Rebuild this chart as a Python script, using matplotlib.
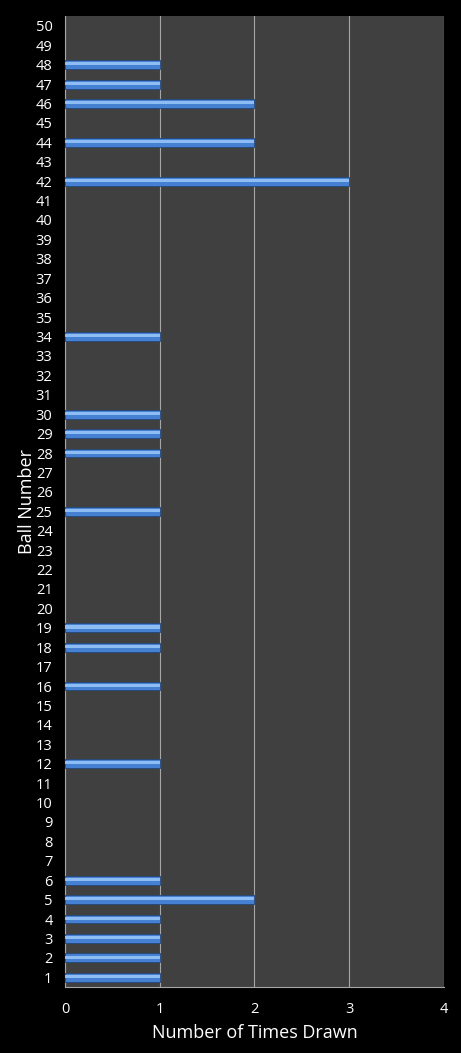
import matplotlib.pyplot as plt
import numpy as np

# dados
bolas = list(range(1, 51))
sorteadas = [1, 2, 3, 4, 5, 6, 12, 16, 18, 19, 25, 28, 29, 30, 34, 42, 44, 46, 47, 48]
vezes = [1, 1, 1, 1, 2, 1, 1, 1, 1, 1, 1, 1, 1, 1, 1, 3, 2, 2, 1, 1]

contagem = np.zeros(len(bolas))
for b, v in zip(sorteadas, vezes):
    contagem[b - 1] = v

plt.rcParams['font.family'] = ['Open Sans', 'DejaVu Sans']

fig = plt.figure(figsize=(4.61, 10.53), dpi=100, facecolor='black')
ax = fig.add_axes([0.141, 0.0627, 0.822, 0.922])
ax.set_facecolor('#404040')

# barra com efeito de relevo
mask = contagem > 0
y = np.array(bolas)[mask]
x = contagem[mask]
ax.barh(y, x, height=0.46, color='#4680d2', edgecolor='#24467a', linewidth=0.6, zorder=3)
ax.barh(y + 0.04, x, height=0.16, color='#8dbdf3', linewidth=0, zorder=4)

ax.set_xlim(0, 4)
ax.set_ylim(0.5, 50.5)
ax.set_xticks([0, 1, 2, 3, 4])
ax.set_yticks(bolas)
ax.grid(axis='x', color='#a6a6a6', linewidth=0.8, zorder=1)

for s in ['top', 'right']:
    ax.spines[s].set_visible(False)
for s in ['left', 'bottom']:
    ax.spines[s].set_color('#a6a6a6')
    ax.spines[s].set_linewidth(0.8)

ax.tick_params(colors='white', labelsize=10.5, length=0, pad=9)
ax.tick_params(axis='x', pad=11)
ax.set_xlabel('Number of Times Drawn', color='white', fontsize=13, labelpad=5)
ax.set_ylabel('Ball Number', color='white', fontsize=13, labelpad=0)

fig.savefig('out.png', dpi=100, facecolor='black')
